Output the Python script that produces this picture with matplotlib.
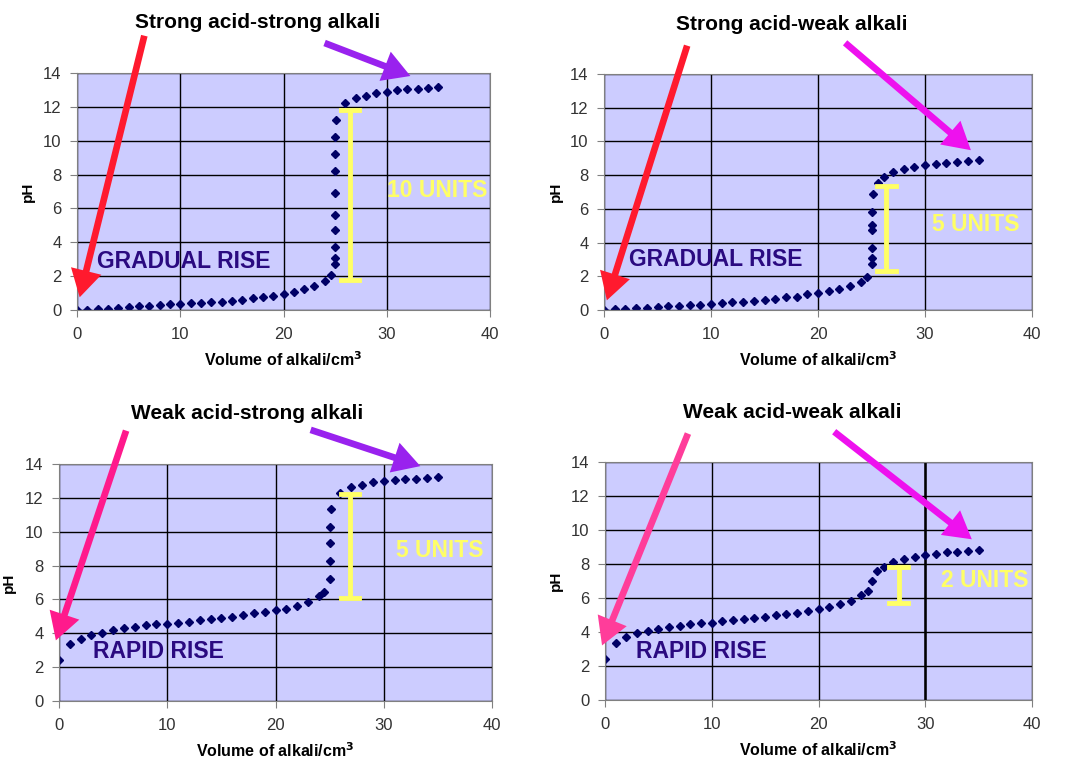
import matplotlib.pyplot as plt
from matplotlib.patches import FancyArrowPatch

W, H = 1065, 767

# ---- data ----
vol_ss = [0, 1, 2, 3, 4, 5, 6, 7, 8, 9, 10, 11, 12, 13, 14, 15, 16, 17, 18, 19, 20,
          21, 22, 23, 24, 24.6, 25.0, 25.0, 25.0, 25.0, 25.0, 25.0, 25.0, 25.0, 25.0,
          25.1, 26, 27, 28, 29, 30, 31, 32, 33, 34, 35]
ph_ss = [0, 0.02, 0.04, 0.08, 0.1, 0.16, 0.22, 0.24, 0.29, 0.33, 0.34, 0.39, 0.43,
         0.45, 0.5, 0.55, 0.6, 0.7, 0.75, 0.85, 0.93, 1.08, 1.22, 1.42, 1.69, 2.04,
         2.69, 3.05, 3.7, 4.7, 5.64, 6.94, 8.24, 9.24, 10.22, 11.2, 12.2, 12.5, 12.65,
         12.8, 12.85, 13.0, 13.07, 13.08, 13.13, 13.2]

vol_sw = [0, 1, 2, 3, 4, 5, 6, 7, 8, 9, 10, 11, 12, 13, 14, 15, 16, 17, 18, 19, 20,
          21, 22, 23, 24, 24.6, 25.0, 25.0, 25.0, 25.0, 25.0, 25.0, 25.1, 25.6, 26.2,
          27, 28, 29, 30, 31, 32, 33, 34, 35]
ph_sw = [0, 0.04, 0.04, 0.1, 0.12, 0.18, 0.22, 0.25, 0.3, 0.3, 0.36, 0.42, 0.48, 0.48,
         0.55, 0.6, 0.68, 0.75, 0.8, 0.92, 0.98, 1.1, 1.25, 1.4, 1.65, 1.98, 2.7, 3.07,
         3.7, 4.75, 5.02, 5.83, 6.86, 7.55, 7.87, 8.17, 8.35, 8.46, 8.58, 8.64, 8.7,
         8.76, 8.82, 8.9]

vol_ws = [0, 1, 2, 3, 4, 5, 6, 7, 8, 9, 10, 11, 12, 13, 14, 15, 16, 17, 18, 19, 20,
          21, 22, 23, 24, 24.5, 25.0, 25.0, 25.0, 25.0, 25.1, 26, 27, 28, 29, 30, 31,
          32, 33, 34, 35]
ph_ws = [2.41, 3.39, 3.69, 3.88, 4.04, 4.18, 4.3, 4.36, 4.48, 4.54, 4.54, 4.61, 4.67,
         4.79, 4.85, 4.91, 4.97, 5.1, 5.17, 5.28, 5.36, 5.46, 5.62, 5.84, 6.21, 6.45,
         7.18, 8.26, 9.31, 10.29, 11.34, 12.3, 12.62, 12.78, 12.92, 13.0, 13.03, 13.09,
         13.09, 13.15, 13.21]

vol_ww = [0, 1, 2, 3, 4, 5, 6, 7, 8, 9, 10, 11, 12, 13, 14, 15, 16, 17, 18, 19, 20,
          21, 22, 23, 24, 24.6, 25.05, 25.5, 26.1, 27, 28, 29, 30, 31, 32, 33, 34, 35]
ph_ww = [2.42, 3.38, 3.69, 3.97, 4.03, 4.18, 4.3, 4.36, 4.48, 4.54, 4.54, 4.65, 4.71,
         4.77, 4.83, 4.87, 5.01, 5.07, 5.12, 5.26, 5.36, 5.5, 5.62, 5.85, 6.15, 6.42,
         7.01, 7.56, 7.85, 8.11, 8.29, 8.4, 8.52, 8.58, 8.7, 8.7, 8.76, 8.84]

titles = ["Strong acid-strong alkali", "Strong acid-weak alkali",
          "Weak acid-strong alkali", "Weak acid-weak alkali"]
rise_labels = ["GRADUAL RISE", "GRADUAL RISE", "RAPID RISE", "RAPID RISE"]
unit_labels = ["10 UNITS", "5 UNITS", "5 UNITS", "2 UNITS"]
# (x, low, high) of the yellow bars
bars = [(26.45, 1.8, 11.8), (26.4, 2.33, 7.36), (26.9, 6.1, 12.2), (27.5, 5.73, 7.8)]

# ---- layout (pixels) ----
boxes = [(77, 490, 73, 310), (604, 1032, 74, 310), (59, 492, 464, 701), (605, 1032, 462, 700)]
ylabel_px = [35, 563, 16, 563]
unit_pos = [(34.9, 7.08), (34.7, 5.1), (35.2, 8.9), (35.6, 7.03)]
rise_pos = [(1.9, 2.85), (2.3, 2.97), (3.1, 2.9), (2.9, 2.85)]
title_pos = [(258, 22), (792, 25), (247, 414), (792, 413)]
arrows = [
    ((145, 33), (79, 300), "#ff1a2e"),
    ((322, 42), (413, 77), "#9922ee"),
    ((688, 43), (606, 303), "#ff1a2e"),
    ((843, 41), (973, 152), "#ee11ee"),
    ((127, 428), (55, 643), "#ff1a8c"),
    ((308, 429), (423, 467), "#9922ee"),
    ((689, 431), (601, 648), "#ff3d9a"),
    ((832, 430), (974, 541), "#ee11ee"),
]

plt.rcParams['font.family'] = ['Liberation Sans', 'DejaVu Sans']


def fig_xy(x, y):
    return (x / W, 1 - y / H)


fig = plt.figure(figsize=(W / 100, H / 100), dpi=100)

series = [(vol_ss, ph_ss), (vol_sw, ph_sw), (vol_ws, ph_ws), (vol_ww, ph_ww)]

for i, (vx, vy) in enumerate(series):
    l, r, t, b = boxes[i]
    ax = fig.add_axes([l / W, 1 - b / H, (r - l) / W, (b - t) / H])
    ax.set_facecolor("#ccccff")
    ax.set_xlim(0, 40)
    ax.set_ylim(0, 14)
    ax.set_xticks(range(0, 41, 10))
    ax.set_yticks(range(0, 15, 2))
    ax.grid(True, color="black", linewidth=1.0)
    ax.set_axisbelow(True)
    for s in ax.spines.values():
        s.set_color("#808080")
    ax.tick_params(axis="both", colors="#808080", labelcolor="#333333",
                   labelsize=12, length=5, direction="out")
    ax.tick_params(axis="y", pad=6)
    ax.tick_params(axis="x", pad=7)
    ax.set_ylabel("pH", fontsize=11, fontweight="bold")
    ax.yaxis.set_label_coords((ylabel_px[i] - l) / (r - l), 0.5)
    ax.set_xlabel(r"Volume of alkali/cm$^{\mathbf{3}}$", fontsize=11.5, fontweight="bold",
                  labelpad=6)
    if i == 3:
        ax.axvline(30, color="black", linewidth=1.8)

    ax.plot(vx, vy, linestyle="none", marker="D", markersize=3.6, color="#000066")

    # yellow range bar
    bx, lo, hi = bars[i]
    ax.plot([bx, bx], [lo, hi], color="#ffff66", linewidth=3.5, solid_capstyle="butt")
    ax.plot([bx - 0.85, bx + 0.85], [lo, lo], color="#ffff66", linewidth=3.5)
    ax.plot([bx - 0.85, bx + 0.85], [hi, hi], color="#ffff66", linewidth=3.5)

    ax.text(unit_pos[i][0], unit_pos[i][1], unit_labels[i], color="#ffff66",
            fontsize=16.5, fontweight="bold", ha="center", va="center")
    ax.text(rise_pos[i][0], rise_pos[i][1], rise_labels[i], color="#2a0a80",
            fontsize=16.5, fontweight="bold", ha="left", va="center")

    fig.text(*fig_xy(*title_pos[i]), titles[i], fontsize=15, fontweight="bold",
             ha="center", va="center")

for (p0, p1, col) in arrows:
    arr = FancyArrowPatch(fig_xy(*p0), fig_xy(*p1), transform=fig.transFigure,
                          arrowstyle="simple,head_length=1.3,head_width=1.5,tail_width=0.32",
                          mutation_scale=15, color=col, linewidth=0, zorder=10)
    fig.add_artist(arr)

fig.savefig("out.png", dpi=100)
